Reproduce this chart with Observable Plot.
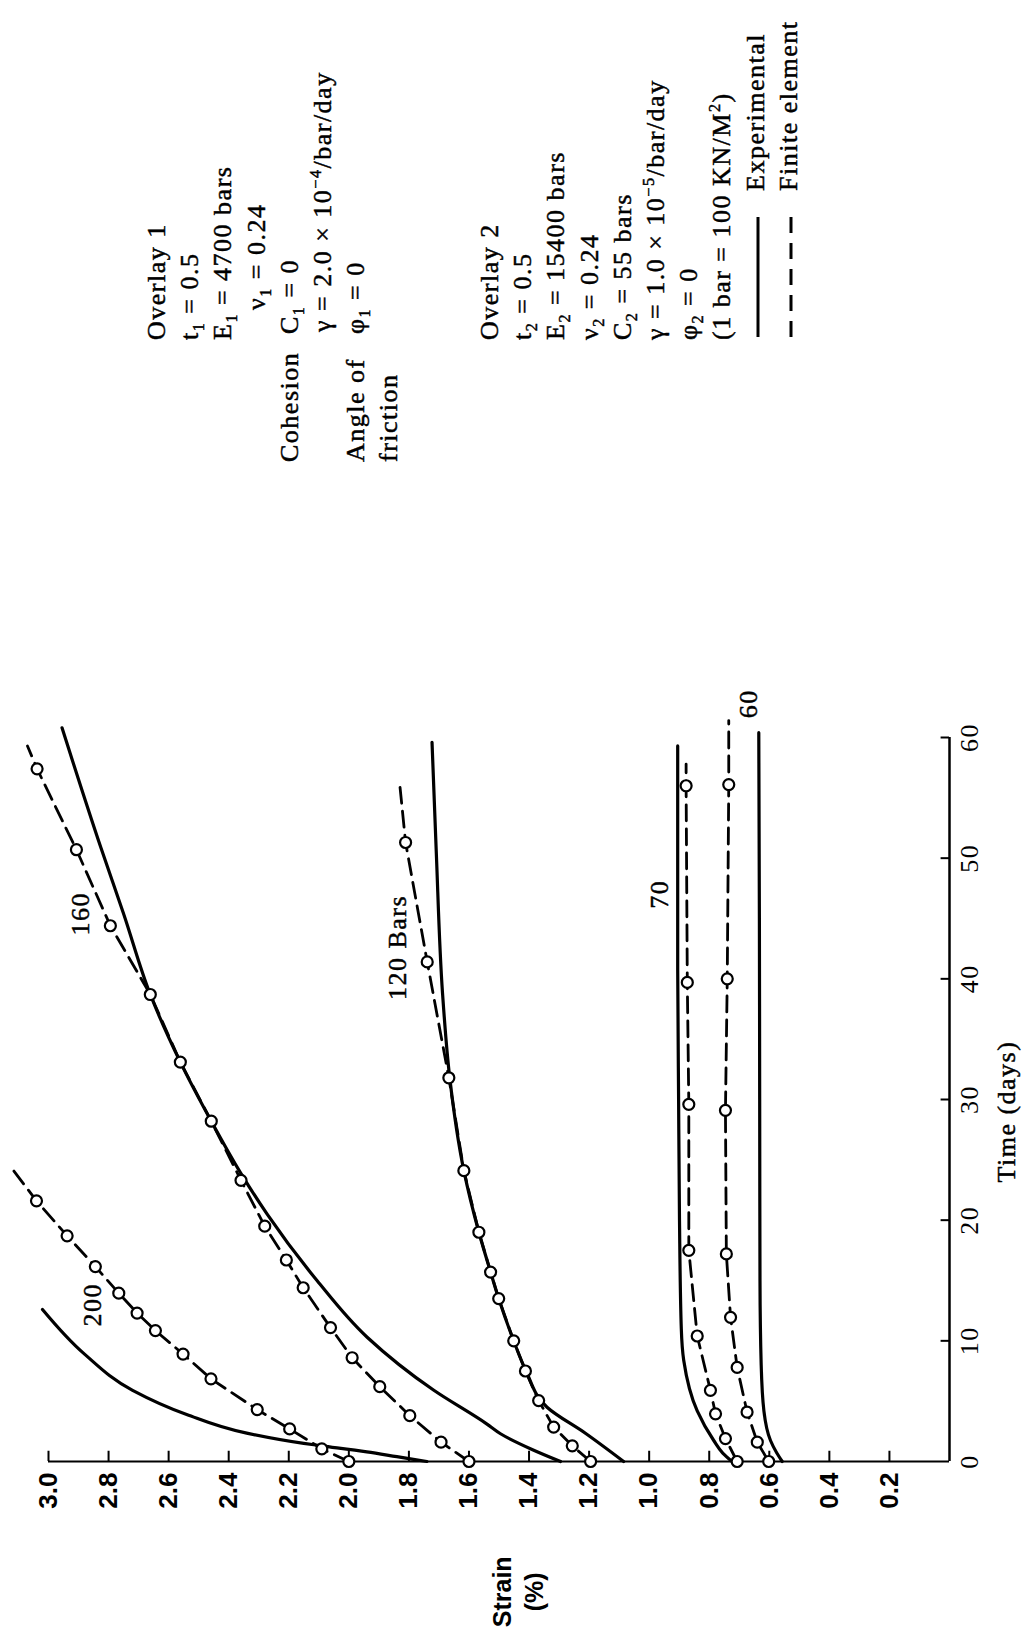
<!DOCTYPE html>
<html><head><meta charset="utf-8">
<script src="https://cdn.jsdelivr.net/npm/d3@7"></script>
<script src="https://cdn.jsdelivr.net/npm/@observablehq/plot@0.6"></script>
<style>
html,body{margin:0;padding:0;background:#fff;}
#wrap{position:relative;width:1029px;height:1628px;overflow:hidden;background:#fff;}
#wrap > svg{position:absolute;left:0;top:0;}
.block{position:absolute;transform-origin:0 0;transform:rotate(-90deg);font-family:"Liberation Serif",serif;font-size:26px;letter-spacing:1.5px;white-space:nowrap;color:#000;-webkit-text-stroke:0.45px #000;}
.block div{height:33.2px;line-height:33.2px;}
.block sub,.block sup{font-size:0.62em;line-height:0;}
.block svg{vertical-align:middle;}
.hang{display:inline-block;width:128px;}
.serif text{letter-spacing:1.5px;}
</style></head><body><div id="wrap"></div>
<script>
// ---- axis ticks ----
const strainTicks = [3.0, 2.8, 2.6, 2.4, 2.2, 2.0, 1.8, 1.6, 1.4, 1.2, 1.0, 0.8, 0.6, 0.4, 0.2];
const timeTicks = [0, 10, 20, 30, 40, 50, 60];

// ---- experimental curves (solid) ----
const exp200Time = [0, 0.4, 0.8, 1.3, 1.5, 2.35, 3.9, 5.9, 8.9, 12.6];
const exp200Strain = [1.74, 1.84, 1.94, 2.09, 2.15, 2.34, 2.54, 2.72, 2.88, 3.02];
const exp160Time = [0, 1, 2.3, 3.1, 5.9, 10.3, 15, 20.5, 23.9, 28.2, 33.1, 38.7, 45.4, 50.9, 60.8];
const exp160Strain = [1.295, 1.39, 1.495, 1.54, 1.717, 1.939, 2.106, 2.272, 2.36, 2.458, 2.561, 2.661, 2.75, 2.826, 2.955];
const exp120Time = [0, 2.3, 4.5, 7.5, 10, 13.5, 15.7, 19, 24.1, 31.8, 38.8, 50.6, 59.6];
const exp120Strain = [1.085, 1.21, 1.34, 1.41, 1.451, 1.501, 1.528, 1.567, 1.617, 1.664, 1.688, 1.709, 1.723];
const exp70Time = [0, 0.7, 1.74, 4.2, 8.4, 11, 20, 30, 41.5, 59.3];
const exp70Strain = [0.724, 0.755, 0.785, 0.84, 0.885, 0.893, 0.899, 0.902, 0.905, 0.905];
const exp60Time = [0, 0.7, 1.74, 4.2, 8, 15, 30, 45, 60.4];
const exp60Strain = [0.557, 0.575, 0.596, 0.618, 0.627, 0.631, 0.632, 0.633, 0.635];

// ---- finite element results (dashed with circles) ----
const fe200Time = [0, 1.05, 2.7, 4.3, 6.85, 8.9, 10.85, 12.3, 13.95, 16.15, 18.7, 21.6];
const fe200Strain = [2.0, 2.09, 2.197, 2.305, 2.459, 2.552, 2.644, 2.705, 2.766, 2.844, 2.938, 3.04];
const fe200Tail = [24.1, 3.116];
const fe160Time = [0, 1.6, 3.8, 6.2, 8.6, 11.1, 14.4, 16.7, 19.5, 23.3, 28.2, 33.1, 38.7, 44.4, 50.7, 57.4];
const fe160Strain = [1.6, 1.693, 1.797, 1.897, 1.989, 2.061, 2.152, 2.208, 2.28, 2.359, 2.458, 2.561, 2.661, 2.794, 2.907, 3.038];
const fe160Tail = [59.3, 3.07];
const fe120Time = [0, 1.3, 2.85, 5.05, 7.5, 10.0, 13.5, 15.7, 19.0, 24.1, 31.8, 41.4, 51.3];
const fe120Strain = [1.195, 1.256, 1.318, 1.368, 1.412, 1.451, 1.501, 1.528, 1.567, 1.617, 1.667, 1.739, 1.811];
const fe120Tail = [56, 1.83];
const fe70Time = [0, 1.9, 3.95, 5.9, 10.4, 17.5, 29.6, 39.7, 56.0];
const fe70Strain = [0.707, 0.746, 0.779, 0.796, 0.84, 0.868, 0.868, 0.873, 0.877];
const fe70Tail = [57.8, 0.877];
const fe60Time = [0, 1.6, 4.1, 7.8, 11.95, 17.2, 29.1, 40.0, 56.1];
const fe60Strain = [0.602, 0.64, 0.674, 0.707, 0.729, 0.743, 0.746, 0.74, 0.735];
const fe60Tail = [61.4, 0.735];

// ---- curve labels ----
const curveLabelText = ["200", "160", "120 Bars", "70", "60"];
const curveLabelTime = [13.0, 45.4, 42.6, 47.0, 62.8];
const curveLabelStrain = [2.854, 2.894, 1.838, 0.966, 0.669];

// ---- parameter text ----
const overlay1Lines = [
  ["", "Overlay 1", 122],
  ["", "t<sub>1</sub> = 0.5", 122],
  ["", "E<sub>1</sub> = 4700 bars", 122],
  ["", "ν<sub>1</sub> = 0.24", 152],
  ["Cohesion", "C<sub>1</sub> = 0", 0],
  ["", "γ = 2.0 × 10<sup>−4</sup>/bar/day", 130],
  ["Angle of", "φ<sub>1</sub> = 0", 0],
  ["", "friction", 0]
];
const overlay2Lines = [
  "Overlay 2",
  "t<sub>2</sub> = 0.5",
  "E<sub>2</sub> = 15400 bars",
  "ν<sub>2</sub> = 0.24",
  "C<sub>2</sub> = 55 bars",
  "γ = 1.0 × 10<sup>−5</sup>/bar/day",
  "φ<sub>2</sub> = 0",
  "(1 bar = 100 KN/M<sup>2</sup>)"
];
const legendLabels = ["Experimental", "Finite element"];

const pts = (T, S) => T.map((t, i) => ({t, s: S[i]}));
const series = [
  {exp: pts(exp200Time, exp200Strain), fe: pts(fe200Time, fe200Strain), tail: fe200Tail},
  {exp: pts(exp160Time, exp160Strain), fe: pts(fe160Time, fe160Strain), tail: fe160Tail},
  {exp: pts(exp120Time, exp120Strain), fe: pts(fe120Time, fe120Strain), tail: fe120Tail},
  {exp: pts(exp70Time, exp70Strain), fe: pts(fe70Time, fe70Strain), tail: fe70Tail},
  {exp: pts(exp60Time, exp60Strain), fe: pts(fe60Time, fe60Strain), tail: fe60Tail}
];
const labels = curveLabelText.map((text, i) => ({text, t: curveLabelTime[i], s: curveLabelStrain[i]}));

const marks = [];
// axis lines
marks.push(Plot.ruleY([0], {x1: 0, x2: 3, stroke: "black", strokeWidth: 2}));
marks.push(Plot.ruleX([0], {y1: 0, y2: 60, stroke: "black", strokeWidth: 2.5}));
// inward ticks
marks.push(Plot.ruleX(strainTicks, {x: d => d, y1: 0, y2: 0.85, stroke: "black", strokeWidth: 2}));
marks.push(Plot.ruleY(timeTicks.filter(d => d > 0), {y: d => d, x1: 0, x2: 0.028, stroke: "black", strokeWidth: 2}));
// tick labels
marks.push(Plot.axisX(strainTicks, {anchor: "bottom", tickSize: 0, tickPadding: 11, tickRotate: -90,
  textAnchor: "end", lineAnchor: "middle", tickFormat: d => d.toFixed(1), label: null,
  fontSize: 26, fontWeight: "bold", fontFamily: "Liberation Sans"}));
marks.push(Plot.axisY(timeTicks, {anchor: "right", tickSize: 0, tickPadding: 10, tickRotate: -90,
  textAnchor: "middle", lineAnchor: "top", tickFormat: d => String(d), label: null,
  fontSize: 26, fontFamily: "Liberation Serif", stroke: "black", strokeWidth: 0.45, className: "serif"}));
// curves
for (const sr of series) {
  marks.push(Plot.line(sr.exp, {x: "s", y: "t", curve: "monotone-y", stroke: "black", strokeWidth: 3.2}));
  marks.push(Plot.line([...sr.fe, {t: sr.tail[0], s: sr.tail[1]}], {x: "s", y: "t", stroke: "black", strokeWidth: 2.8, strokeDasharray: "16,8"}));
  marks.push(Plot.dot(sr.fe, {x: "s", y: "t", r: 5.5, fill: "white", stroke: "black", strokeWidth: 2.2}));
}
// curve labels
marks.push(Plot.text(labels, {x: "s", y: "t", text: "text", rotate: -90, fontSize: 26,
  fontFamily: "Liberation Serif", fill: "black", stroke: "black", strokeWidth: 0.45, className: "serif"}));
// axis titles
marks.push(Plot.text(["Time (days)"], {x: 0, y: 29, dx: 57, text: d => d, rotate: -90, fontSize: 26,
  fontFamily: "Liberation Serif", fill: "black", stroke: "black", strokeWidth: 0.45, className: "serif"}));
marks.push(Plot.text(["Strain\n(%)"], {x: 1.44, y: -10.8, text: d => d, rotate: -90, fontSize: 25,
  fontWeight: "bold", fontFamily: "Liberation Sans", lineHeight: 1.28, fill: "black"}));

const chart = Plot.plot({
  width: 1029, height: 1628,
  marginLeft: 48, marginRight: 80, marginTop: 737, marginBottom: 167,
  x: {domain: [0, 3], reverse: true, axis: null},
  y: {domain: [0, 60], axis: null},
  style: {background: "white", color: "black", overflow: "visible"},
  marks
});
const wrap = document.getElementById("wrap");
wrap.appendChild(chart);

// parameter blocks (rotated like the figure)
const b1 = document.createElement("div");
b1.className = "block";
b1.style.left = "140px"; b1.style.top = "462px";
for (const [hang, txt, pad] of overlay1Lines) {
  const d = document.createElement("div");
  if (hang) d.innerHTML = `<span class="hang">${hang}</span>` + txt;
  else { d.style.paddingLeft = pad + "px"; d.innerHTML = txt; }
  b1.appendChild(d);
}
wrap.appendChild(b1);

const b2 = document.createElement("div");
b2.className = "block";
b2.style.left = "473px"; b2.style.top = "340px";
for (const txt of overlay2Lines) {
  const d = document.createElement("div");
  d.innerHTML = txt;
  b2.appendChild(d);
}
legendLabels.forEach((lab, i) => {
  const d = document.createElement("div");
  const dash = i === 1 ? ' stroke-dasharray="16,10"' : '';
  d.innerHTML = `<svg width="124" height="10" style="margin-right:22px;margin-left:3px"><line x1="0" y1="5" x2="120" y2="5" stroke="black" stroke-width="3"${dash}/></svg>${lab}`;
  b2.appendChild(d);
});
wrap.appendChild(b2);
</script></body></html>
